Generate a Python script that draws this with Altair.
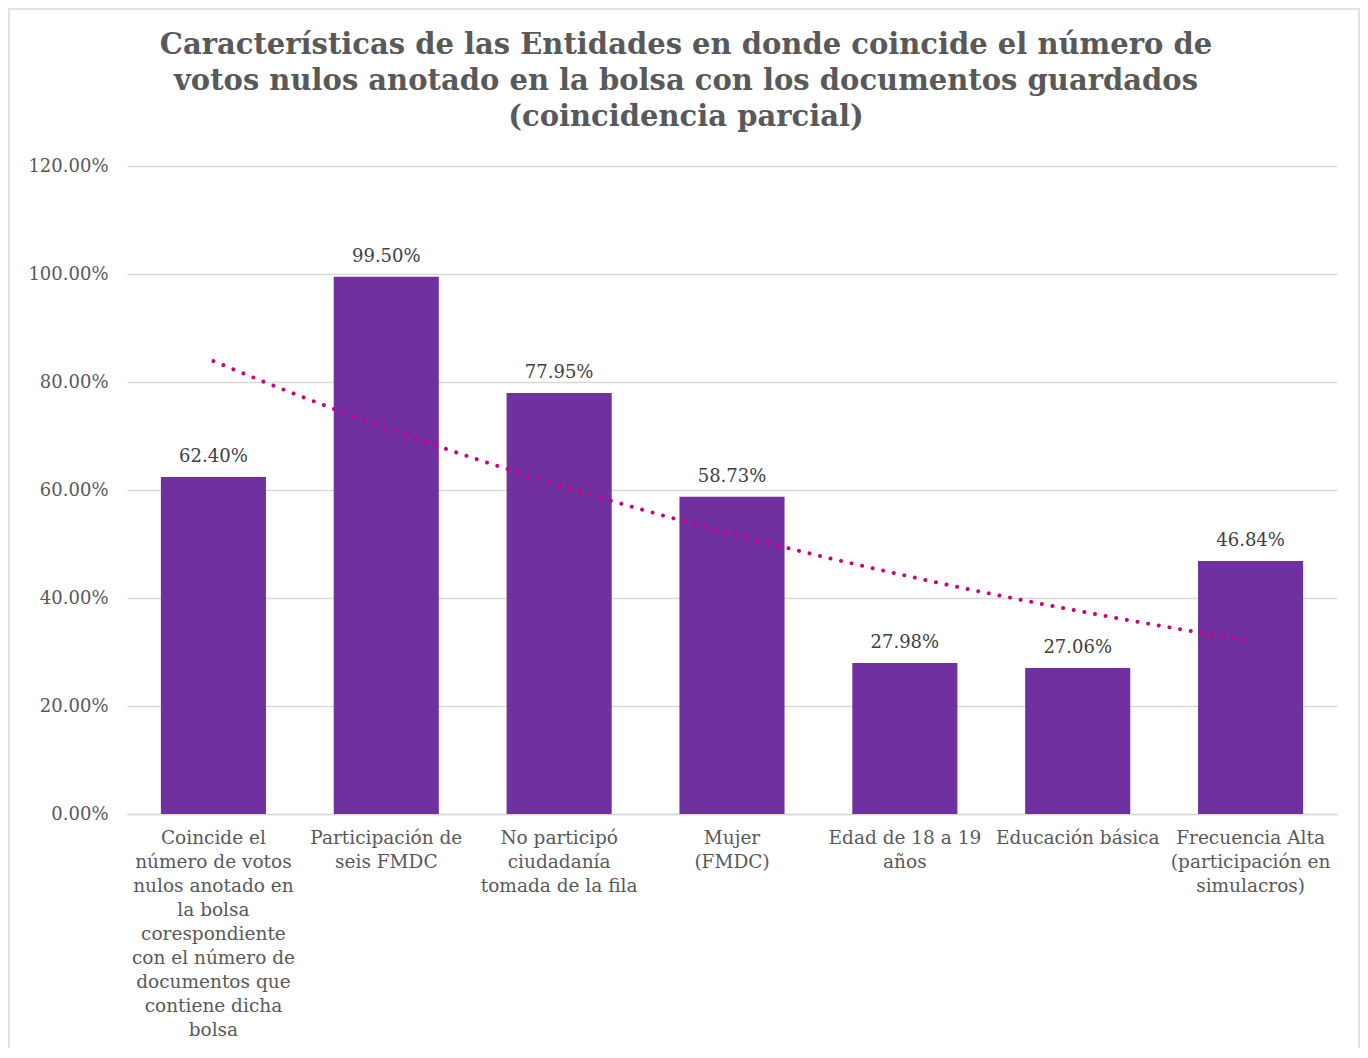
import altair as alt
import numpy as np
import pandas as pd

# ---- data ----
label_lines = [
    ["Coincide el", "número de votos", "nulos anotado en", "la bolsa", "corespondiente",
     "con el número de", "documentos que", "contiene dicha", "bolsa"],
    ["Participación de", "seis FMDC"],
    ["No participó", "ciudadanía", "tomada de la fila"],
    ["Mujer", "(FMDC)"],
    ["Edad de 18 a 19", "años"],
    ["Educación básica"],
    ["Frecuencia Alta", "(participación en", "simulacros)"],
]
values_pct = [62.40, 99.50, 77.95, 58.73, 27.98, 27.06, 46.84]
y_ticks = [0.0, 0.2, 0.4, 0.6, 0.8, 1.0, 1.2]
title_lines = [
    "Características de las Entidades en donde coincide el número de",
    "votos nulos anotado en la bolsa con los documentos guardados",
    "(coincidencia parcial)",
]

categories = ["\n".join(l) for l in label_lines]
df = pd.DataFrame({
    "cat": categories,
    "val": [v / 100 for v in values_pct],
})
df["lbl"] = [f"{v:.2f}%" for v in values_pct]

# exponential trendline (least squares on log values, like a spreadsheet trendline)
xs = np.arange(1, len(values_pct) + 1)
b, a = np.polyfit(xs, np.log(np.array(values_pct) / 100), 1)
xt = np.linspace(1, len(values_pct), 61)
trend = pd.DataFrame({"x": xt, "y": np.exp(a + b * xt)})

W, H = 1210, 648
FONT = "DejaVu Serif"
GRAY = "#595959"

band = alt.Scale(paddingInner=0.392, paddingOuter=0.196)
x_enc = alt.X(
    "cat:N", sort=categories, title=None, scale=band,
    axis=alt.Axis(labelAngle=0, ticks=False, domainColor="#D9D9D9", domainWidth=1.5,
                  labelFont=FONT, labelFontSize=18.5, labelColor=GRAY, labelLineHeight=24,
                  labelPadding=14, labelBaseline="top", labelLimit=400,
                  labelExpr="split(datum.label, '\\n')", grid=False),
)
y_enc = alt.Y(
    "val:Q", title=None,
    scale=alt.Scale(domain=[0, 1.2], nice=False),
    axis=alt.Axis(values=y_ticks, format=".2%", grid=True, gridColor="#D9D9D9",
                  gridWidth=1.5, domain=False, ticks=False, labelFont=FONT,
                  labelFontSize=18, labelColor=GRAY, labelPadding=19),
)

base = alt.Chart(df)
bars = base.mark_bar(color="#7030A0").encode(x=x_enc, y=y_enc)
labels = base.mark_text(font=FONT, fontSize=18, color="#404040", baseline="alphabetic",
                        dy=-15).encode(
    x=alt.X("cat:N", sort=categories, scale=band), y="val:Q", text="lbl:N")
bar_layer = alt.layer(bars, labels)

trend_line = alt.Chart(trend).mark_line(
    color="#CC0080", strokeWidth=4, strokeCap="round", strokeDash=[0.01, 10.8]
).encode(
    x=alt.X("x:Q", scale=alt.Scale(domain=[0.5, 7.5], nice=False, zero=False), axis=None),
    y=alt.Y("y:Q"),
)
border = alt.Chart(pd.DataFrame({"a": [0]})).mark_rect(
    fillOpacity=0, stroke="#D9D9D9", strokeWidth=1.5
).encode(x=alt.value(-118), x2=alt.value(W + 22), y=alt.value(-157), y2=alt.value(H + 300))

chart = alt.layer(border, bar_layer, trend_line).resolve_scale(x="independent").properties(
    width=W, height=H,
    autosize=alt.AutoSizeParams(type="none"),
    padding={"left": 119, "top": 158, "right": 23, "bottom": 234},
    title=alt.TitleParams(text=title_lines, anchor="middle", frame="group", dx=-46,
                          offset=-124, font=FONT, fontSize=29, fontWeight="bold",
                          color=GRAY, lineHeight=36),
).configure_view(stroke=None)

chart.save("out.html", embed_options={"renderer": "svg", "actions": False})
